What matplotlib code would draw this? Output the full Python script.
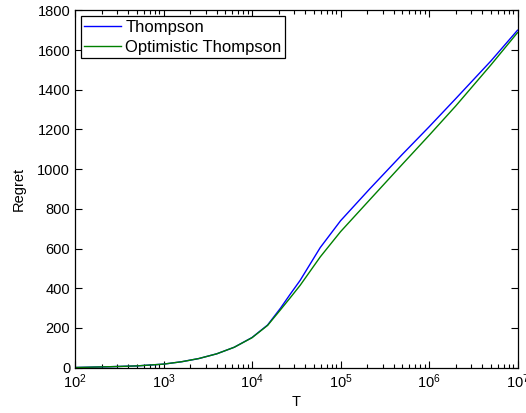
import matplotlib
matplotlib.use('Agg')
import matplotlib.pyplot as plt
from matplotlib.ticker import LogLocator, NullFormatter

plt.rcParams['font.family'] = ['Liberation Sans', 'DejaVu Sans']
plt.rcParams['font.size'] = 10.5

# values
T = [1e2, 2.5e2, 5e2, 1e3, 1.6e3, 2.5e3, 4e3, 6.3e3, 1e4, 1.5e4, 2.1e4,
     2.7e4, 3.5e4, 5.9e4, 1e5, 2.14e5, 5e5, 1e6, 2e6, 5e6, 1e7]
thompson = [1, 5, 9, 18, 30, 46, 70, 103, 152, 215, 300, 370, 440, 605,
            740, 901, 1075, 1213, 1355, 1545, 1700]
optimistic = [1, 5, 9, 18, 30, 46, 70, 103, 151, 213, 292, 352, 415, 558,
              685, 846, 1025, 1170, 1318, 1525, 1688]

fig = plt.figure(figsize=(5.26, 4.13), dpi=100)
ax = fig.add_axes([75/526, 1-367.7/413, 442.5/526, 357.3/413])

ax.plot(T, thompson, color='#0000ff', lw=1.0, label='Thompson')
ax.plot(T, optimistic, color='#008000', lw=1.0, label='Optimistic Thompson')

ax.set_xscale('log')
ax.set_xlim(1e2, 1e7)
ax.set_ylim(0, 1800)
ax.set_yticks(range(0, 1801, 200))
ax.xaxis.set_minor_locator(LogLocator(base=10, subs=range(2, 10), numticks=20))
ax.xaxis.set_minor_formatter(NullFormatter())

ax.tick_params(which='both', direction='in', top=True, right=True, width=0.8)
ax.tick_params(which='major', length=5)
ax.tick_params(which='minor', length=3)
for s in ax.spines.values():
    s.set_linewidth(0.9)

ax.set_xlabel('T', labelpad=3)
ax.set_ylabel('Regret', labelpad=8)

leg = ax.legend(loc='upper left', fancybox=False, edgecolor='black',
                framealpha=1, borderaxespad=0.36, handlelength=2.2,
                handletextpad=0.25, borderpad=0.2, labelspacing=0.3,
                fontsize=12)
leg.get_frame().set_linewidth(0.9)

fig.savefig('out.png', dpi=100)
